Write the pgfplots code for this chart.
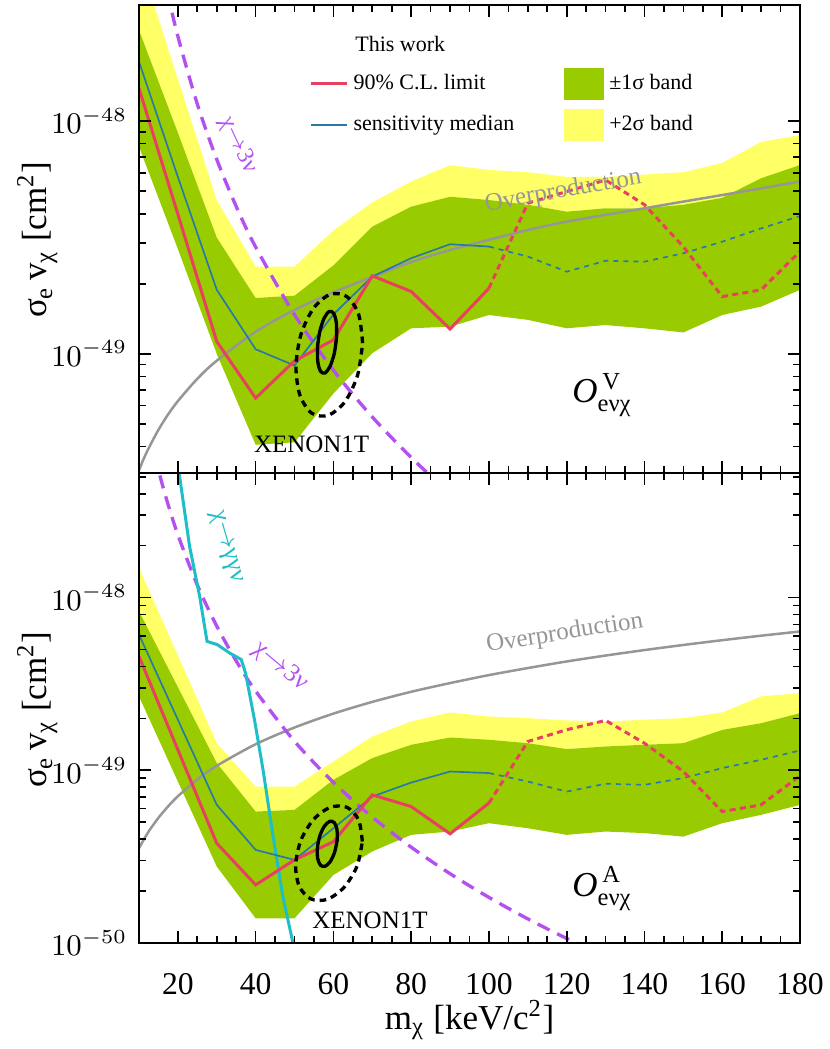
\documentclass[border=0pt]{standalone}
\usepackage{fontspec}
\setmainfont{Liberation Serif}
\usepackage{amsmath}
\usepackage{pgfplots}
\usepackage{pgfplotstable}
\pgfplotsset{compat=1.18}
\usepgfplotslibrary{fillbetween}

\definecolor{bandY}{RGB}{255,255,102}
\definecolor{bandG}{RGB}{153,204,0}
\definecolor{limR}{RGB}{232,64,96}
\definecolor{medB}{RGB}{40,120,170}
\definecolor{purp}{RGB}{180,80,240}
\definecolor{cyn}{RGB}{30,190,200}
\definecolor{gry}{RGB}{150,150,150}

\pgfplotstableread{
x   yT        gU        gL
10  5.01e-48  2.455e-48 7.76e-49
20  1.514e-48 8.91e-49  2.82e-49
30  4.57e-49  3.16e-49  1.0e-49
40  2.37e-49  1.738e-49 4.07e-50
50  2.37e-49  1.778e-49 4.17e-50
60  3.39e-49  2.40e-49  6.76e-50
70  4.47e-49  3.52e-49  1.007e-49
80  5.50e-49  4.29e-49  1.288e-49
90  6.46e-49  4.73e-49  1.309e-49
100 6.17e-49  4.58e-49  1.469e-49
110 6.03e-49  4.37e-49  1.40e-49
120 5.75e-49  4.08e-49  1.288e-49
130 5.75e-49  4.22e-49  1.33e-49
140 5.89e-49  4.22e-49  1.288e-49
150 6.03e-49  4.37e-49  1.236e-49
160 6.61e-49  4.68e-49  1.469e-49
170 8.13e-49  5.68e-49  1.596e-49
180 8.71e-49  6.47e-49  1.884e-49
}\topband

\pgfplotstableread{
x   yT        gU        gL
10  1.486e-48 8.34e-49  2.679e-49
20  4.63e-49  3.03e-49  8.61e-50
30  1.436e-49 1.102e-49 2.773e-50
40  8.05e-50  5.77e-50  1.39e-50
50  8.05e-50  5.90e-50  1.39e-50
60  1.125e-49 8.81e-50  2.477e-50
70  1.57e-49  1.178e-49 3.39e-50
80  1.919e-49 1.406e-49 4.23e-50
90  2.163e-49 1.549e-49 4.42e-50
100 2.05e-49  1.503e-49 4.94e-50
110 2.005e-49 1.436e-49 4.62e-50
120 1.945e-49 1.327e-49 4.23e-50
130 1.919e-49 1.374e-49 4.42e-50
140 1.963e-49 1.406e-49 4.33e-50
150 2.005e-49 1.436e-49 4.13e-50
160 2.163e-49 1.714e-49 4.94e-50
170 2.679e-49 1.875e-49 5.52e-50
180 2.80e-49  2.143e-49 6.31e-50
}\botband

\tikzset{txt/.style={font=\fontsize{#1}{#1}\selectfont}}
\pgfplotsset{
  lineleg/.style={legend image code/.code={\draw[##1] (0pt,0pt) -- (10.8pt,0pt);}},
  boxleg/.style={legend image code/.code={\fill[##1] (0pt,-4.8pt) rectangle (12pt,4.8pt);}},
}

\begin{document}
\begin{tikzpicture}
% ---------------- bottom panel (axial) ----------------
\begin{axis}[name=bot, width=198.3pt, height=141pt, scale only axis,
  xmin=10, xmax=180, ymode=log,
  ymin=1e-50, ymax=5.27e-48,
  xtick={20,40,...,180}, minor x tick num=3,
  major tick length=3.6pt, minor tick length=2.1pt,
  tick style={black, line width=0.5pt},
  axis line style={line width=0.6pt},
  yticklabel style={font=\fontsize{9}{10}\selectfont},
  xticklabel style={font=\fontsize{9.5}{10}\selectfont, yshift=-5.5pt, /pgf/number format/assume math mode=true},
  label style={font=\fontsize{10.5}{12}\selectfont},
  axis on top,
  xlabel={m\textsubscript{χ} [keV/c\textsuperscript{2}]},
  ylabel={σ\textsubscript{e}\,v\textsubscript{χ} [cm\textsuperscript{2}]},
  xlabel style={at={(axis description cs:0.5,-0.164)}, anchor=center},
  ylabel style={at={(axis description cs:-0.154,0.496)}, anchor=center},
]
\addplot[name path=bY, draw=none, forget plot] table[x=x,y=yT]{\botband};
\addplot[name path=bG, draw=none, forget plot] table[x=x,y=gU]{\botband};
\addplot[name path=bL, draw=none, forget plot] table[x=x,y=gL]{\botband};
\addplot[fill=bandY, draw=none, forget plot] fill between[of=bY and bG];
\addplot[fill=bandG, draw=none, forget plot] fill between[of=bG and bL];
% overproduction
\addplot[gry, line width=0.75pt, smooth, forget plot] coordinates {
(10,3.54e-50)(11,3.89e-50)(12.5,4.43e-50)(15,5.31e-50)(17.5,6.19e-50)(20,7.08e-50)
(25,8.85e-50)(30,1.062e-49)(40,1.416e-49)(50,1.77e-49)(60,2.13e-49)(70,2.49e-49)
(80,2.85e-49)(90,3.20e-49)(100,3.56e-49)(110,3.91e-49)(120,4.27e-49)(130,4.62e-49)
(140,4.97e-49)(150,5.32e-49)(160,5.67e-49)(170,6.02e-49)(180,6.37e-49)};
% chi -> 3 nu
\addplot[purp, line width=1pt, dash pattern=on 4pt off 2.5pt, smooth, forget plot] coordinates {
(14,6.75e-48)(15,5.48e-48)(17,3.76e-48)(20,2.31e-48)(25,1.182e-48)(30,6.84e-49)
(35,4.30e-49)(40,2.877e-49)(50,1.472e-49)(60,8.51e-50)(70,5.36e-50)(80,3.59e-50)
(90,2.52e-50)(100,1.837e-50)(110,1.379e-50)(120,1.062e-50)(130,8.36e-51)};
% chi -> gamma gamma nu
\addplot[cyn, line width=0.9pt, forget plot] coordinates {
(20.3,5.3e-48)(23.0,1.986e-48)(25.6,1.019e-48)(27.5,5.58e-49)(30.1,5.35e-49)
(33.3,4.78e-49)(36.3,4.38e-49)(37.4,3.66e-49)(39.7,1.963e-49)(41.9,1.007e-49)
(44.5,4.13e-50)(47.0,1.858e-50)(49.6,1.0e-50)(50.1,8.7e-51)};
% sensitivity median
\addplot[medB, line width=0.5pt, forget plot] coordinates {
(10,6.11e-49)(20,1.963e-49)(30,6.31e-50)(40,3.46e-50)(50,3.03e-50)(60,4.62e-50)
(70,7.05e-50)(80,8.49e-50)(90,9.84e-50)(100,9.64e-50)};
\addplot[medB, line width=0.5pt, dash pattern=on 1.5pt off 1.5pt, forget plot] coordinates {
(100,9.64e-50)(110,8.61e-50)(120,7.53e-50)(130,8.36e-50)(140,8.24e-50)(150,9.02e-50)
(160,1.03e-49)(170,1.151e-49)(180,1.303e-49)};
% 90% CL limit
\addplot[limR, line width=0.9pt, forget plot] coordinates {
(10,4.57e-49)(20,1.315e-49)(30,3.78e-50)(40,2.17e-50)(50,3.03e-50)(60,3.86e-50)
(70,7.21e-50)(80,6.17e-50)(90,4.29e-50)(100,6.46e-50)};
\addplot[limR, line width=0.9pt, dash pattern=on 1.8pt off 1.3pt, forget plot] coordinates {
(100,6.46e-50)(110,1.469e-49)(120,1.718e-49)(130,1.945e-49)(140,1.436e-49)(150,9.84e-50)
(160,5.77e-50)(170,6.31e-50)(180,9.29e-50)};
% XENON1T contours
\addplot[black, line width=1pt, smooth, forget plot] coordinates {
(60.96,3.93e-50)(60.92,4.54e-50)(60.22,4.98e-50)(59.03,5.06e-50)(57.69,4.75e-50)
(56.54,4.19e-50)(55.90,3.58e-50)(55.94,3.10e-50)(56.65,2.825e-50)(57.83,2.78e-50)
(59.18,2.958e-50)(60.32,3.36e-50)(60.96,3.93e-50)};
\addplot[black, line width=1pt, dash pattern=on 2pt off 1.5pt, smooth, forget plot] coordinates {
(67.43,3.87e-50)(66.50,5.15e-50)(63.52,6.10e-50)(59.29,6.12e-50)(54.95,5.21e-50)
(51.65,3.94e-50)(50.29,2.83e-50)(51.22,2.128e-50)(54.20,1.80e-50)(58.43,1.79e-50)
(62.77,2.104e-50)(66.07,2.786e-50)(67.43,3.87e-50)};
\node[cyn, rotate=-74, txt=7.7] at (axis cs:32.3,1.968e-48) {χ$\rightarrow$γγν};
\node[purp, rotate=-40, txt=7.6] at (axis cs:46.3,4.0e-49) {χ$\rightarrow$3ν};
\node[gry, rotate=9, txt=7.5] at (axis cs:119.5,6.19e-49) {Overproduction};
\node[txt=7.5] at (axis cs:69.4,1.346e-50) {XENON1T};
\node[anchor=base west, inner sep=0pt, txt=10.5] at (axis cs:121.3,1.87e-50) {$\mathit{O}^{\,\mathrm{A}}_{\text{eνχ}}$};
\end{axis}

% ---------------- top panel (vector) ----------------
\begin{axis}[name=top, at={(bot.north west)}, anchor=south west,
  width=198.3pt, height=140.4pt, scale only axis,
  xmin=10, xmax=180, ymode=log,
  ymin=3.08e-50, ymax=3.15e-48,
  xtick={20,40,...,180}, minor x tick num=3,
  major tick length=3.6pt, minor tick length=2.1pt,
  tick style={black, line width=0.5pt},
  axis line style={line width=0.6pt},
  yticklabel style={font=\fontsize{9}{10}\selectfont},
  label style={font=\fontsize{10.5}{12}\selectfont},
  axis on top,
  xticklabels={},
  ylabel={σ\textsubscript{e}\,v\textsubscript{χ} [cm\textsuperscript{2}]},
  ylabel style={at={(axis description cs:-0.154,0.498)}, anchor=center},
  legend columns=2, legend cell align=left,
  legend style={draw=none, fill=none, at={(axis description cs:0.257,0.867)}, anchor=north west,
    font=\fontsize{6.6}{7}\selectfont, inner sep=0pt, row sep=2.8pt,
    nodes={inner sep=1.5pt},
    /tikz/every even column/.append style={column sep=13.5pt}},
]
\addlegendimage{lineleg, limR, line width=0.9pt}
\addlegendentry{90\% C.L. limit}
\addlegendimage{boxleg, fill=bandG, draw=none}
\addlegendentry{±1σ band}
\addlegendimage{lineleg, medB, line width=0.5pt}
\addlegendentry{sensitivity median}
\addlegendimage{boxleg, fill=bandY, draw=none}
\addlegendentry{+2σ band}

\addplot[name path=tY, draw=none, forget plot] table[x=x,y=yT]{\topband};
\addplot[name path=tG, draw=none, forget plot] table[x=x,y=gU]{\topband};
\addplot[name path=tL, draw=none, forget plot] table[x=x,y=gL]{\topband};
\addplot[fill=bandY, draw=none, forget plot] fill between[of=tY and tG];
\addplot[fill=bandG, draw=none, forget plot] fill between[of=tG and tL];
% overproduction
\addplot[gry, line width=0.75pt, smooth, forget plot] coordinates {
(10,3.16e-50)(11,3.48e-50)(12.5,3.94e-50)(15,4.72e-50)(17.5,5.50e-50)(20,6.27e-50)
(25,7.82e-50)(30,9.35e-50)(40,1.245e-49)(50,1.545e-49)(60,1.84e-49)(70,2.14e-49)
(80,2.48e-49)(90,2.79e-49)(100,3.09e-49)(110,3.404e-49)(120,3.698e-49)(130,3.954e-49)
(140,4.22e-49)(150,4.508e-49)(160,4.81e-49)(170,5.14e-49)(180,5.50e-49)};
% chi -> 3 nu
\addplot[purp, line width=1pt, dash pattern=on 4pt off 2.5pt, smooth, forget plot] coordinates {
(14,6.75e-48)(15,5.48e-48)(17,3.76e-48)(20,2.31e-48)(25,1.182e-48)(30,6.84e-49)
(35,4.30e-49)(40,2.877e-49)(50,1.472e-49)(60,8.51e-50)(70,5.36e-50)(80,3.59e-50)
(90,2.52e-50)(100,1.837e-50)};
% sensitivity median
\addplot[medB, line width=0.5pt, forget plot] coordinates {
(10,1.799e-48)(20,5.75e-49)(30,1.884e-49)(40,1.047e-49)(50,8.91e-50)(60,1.479e-49)
(70,2.148e-49)(80,2.576e-49)(90,2.958e-49)(100,2.89e-49)};
\addplot[medB, line width=0.5pt, dash pattern=on 1.5pt off 1.5pt, forget plot] coordinates {
(100,2.89e-49)(110,2.618e-49)(120,2.254e-49)(130,2.512e-49)(140,2.489e-49)(150,2.704e-49)
(160,3.034e-49)(170,3.459e-49)(180,3.908e-49)};
% 90% CL limit
\addplot[limR, line width=0.9pt, forget plot] coordinates {
(10,1.380e-48)(20,3.98e-49)(30,1.13e-49)(40,6.46e-50)(50,9.33e-50)(60,1.148e-49)
(70,2.163e-49)(80,1.854e-49)(90,1.279e-49)(100,1.914e-49)};
\addplot[limR, line width=0.9pt, dash pattern=on 1.8pt off 1.3pt, forget plot] coordinates {
(100,1.914e-49)(110,4.44e-49)(120,4.98e-49)(130,5.58e-49)(140,4.37e-49)(150,2.884e-49)
(160,1.762e-49)(170,1.884e-49)(180,2.754e-49)};
% XENON1T contours
\addplot[black, line width=1pt, smooth, forget plot] coordinates {
(60.81,1.175e-49)(60.76,1.358e-49)(60.07,1.493e-49)(58.92,1.521e-49)(57.63,1.426e-49)
(56.53,1.253e-49)(55.93,1.072e-49)(55.98,9.27e-50)(56.67,8.43e-50)(57.82,8.28e-50)
(59.11,8.83e-50)(60.21,1.002e-49)(60.81,1.175e-49)};
\addplot[black, line width=1pt, dash pattern=on 2pt off 1.5pt, smooth, forget plot] coordinates {
(67.51,1.112e-49)(66.49,1.479e-49)(63.45,1.762e-49)(59.20,1.803e-49)(54.88,1.57e-49)
(51.65,1.211e-49)(50.37,8.83e-50)(51.39,6.64e-50)(54.43,5.56e-50)(58.68,5.45e-50)
(63.00,6.24e-50)(66.23,8.11e-50)(67.51,1.112e-49)};
\node[txt=6.6] at (axis cs:77.2,2.15e-48) {This work};
\node[purp, rotate=-65, txt=7.2] at (axis cs:35.5,7.89e-49) {χ$\rightarrow$3ν};
\node[gry, rotate=10, txt=7.5] at (axis cs:119.1,4.98e-49) {Overproduction};
\node[txt=7.5] at (axis cs:54.4,4.07e-50) {XENON1T};
\node[anchor=base west, inner sep=0pt, txt=10.5] at (axis cs:121.3,6.17e-50) {$\mathit{O}^{\,\mathrm{V}}_{\text{eνχ}}$};
\end{axis}
\pgfresetboundingbox
\path[use as bounding box] ([xshift=-41.7pt,yshift=-31.8pt]bot.south west) rectangle ([xshift=8.7pt,yshift=1.5pt]top.north east);
\end{tikzpicture}
\end{document}
